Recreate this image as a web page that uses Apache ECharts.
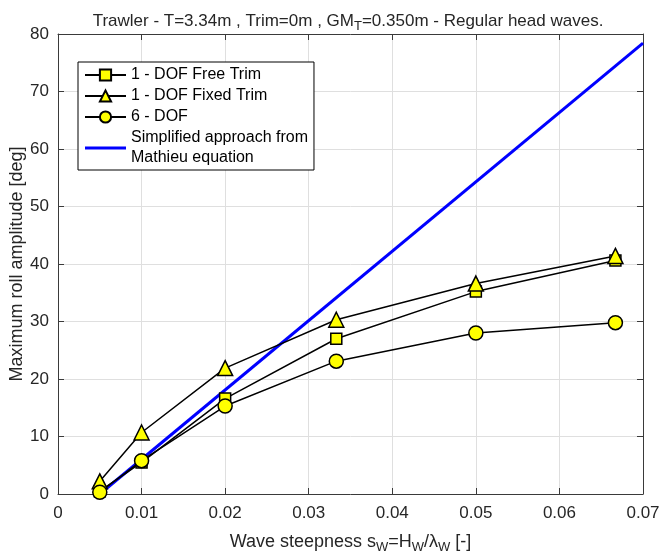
<!DOCTYPE html>
<html>
<head>
<meta charset="utf-8">
<script src="https://cdn.jsdelivr.net/npm/echarts@6/dist/echarts.min.js"></script>
<style>html,body{margin:0;padding:0;background:#fff}#c{width:660px;height:556px}</style>
</head>
<body>
<div id="c"></div>
<script>
// ---- data ----
const steepness = [0.005, 0.01, 0.02, 0.0333, 0.05, 0.0667];
const freeTrim  = [0.5, 5.5, 16.6, 27.0, 35.2, 40.6];
const fixedTrim = [2.2, 10.7, 21.9, 30.3, 36.6, 41.4];
const sixDof    = [0.3, 5.8, 15.3, 23.1, 28.0, 29.8];
const mathieuX  = [0.005, 0.07];
const mathieuY  = [0, 78.4];
const xTicks = [0, 0.01, 0.02, 0.03, 0.04, 0.05, 0.06, 0.07];
const yTicks = [0, 10, 20, 30, 40, 50, 60, 70, 80];
const names = ['1 - DOF Free Trim', '1 - DOF Fixed Trim', '6 - DOF', 'Simplified approach from\nMathieu equation'];

const pair = (xs, ys) => xs.map((x, i) => [x, ys[i]]);
const FONT = 'Liberation Sans, Arial, sans-serif';
const TXT = '#262626';
const AX = '#3a3a3a';

const chart = echarts.init(document.getElementById('c'), null, {renderer: 'canvas'});

const mk = (name, data, symbol, size) => ({
  name, type: 'line', data, symbol, symbolSize: size, z: 3,
  lineStyle: {color: '#000', width: 1.5},
  itemStyle: {color: '#ffff00', borderColor: '#000', borderWidth: 1.5},
  emphasis: {disabled: true}, animation: false
});

const baseX = {
  type: 'value', min: xTicks[0], max: xTicks[xTicks.length - 1], interval: 0.01
};
const baseY = {
  type: 'value', min: yTicks[0], max: yTicks[yTicks.length - 1], interval: 10
};

chart.setOption({
  animation: false,
  backgroundColor: '#fff',
  title: {
    text: 'Trawler - T=3.34m , Trim=0m , GM{s|T}=0.350m - Regular head waves.',
    left: 343, textAlign: 'center', top: 5,
    textStyle: {
      fontFamily: FONT, fontSize: 17, fontWeight: 'normal', color: TXT,
      rich: {s: {fontFamily: FONT, fontSize: 13, color: TXT, padding: [10, 0, 0, 0]}}
    }
  },
  legend: {
    data: [
      {name: names[0]}, {name: names[1]}, {name: names[2]},
      {name: names[3], icon: 'path://M0,0 L41,0 L41,3 L0,3 Z', itemStyle: {color: '#0000ff'}}
    ],
    orient: 'vertical',
    left: 78, top: 62,
    padding: [3, 6, 2, 6],
    itemWidth: 41, itemHeight: 14, itemGap: 1,
    backgroundColor: '#fff', borderColor: '#000', borderWidth: 1,
    textStyle: {fontFamily: FONT, fontSize: 16, color: '#000', lineHeight: 20},
    selectedMode: false
  },
  grid: {left: 58, top: 34, right: 17, bottom: 62, containLabel: false, outerBoundsMode: 'none'},
  xAxis: [
    Object.assign({}, baseX, {
      position: 'bottom',
      name: 'Wave steepness s{s|W}=H{s|W}/λ{s|W} [-]',
      nameLocation: 'middle', nameGap: 37,
      nameTextStyle: {fontFamily: FONT, fontSize: 18, color: TXT,
        rich: {s: {fontFamily: FONT, fontSize: 13, color: TXT, padding: [10, 0, 0, 0]}}},
      axisLine: {show: true, onZero: false, lineStyle: {color: AX, width: 1}},
      axisTick: {show: true, inside: true, length: 6, lineStyle: {color: AX}},
      axisLabel: {fontFamily: FONT, fontSize: 17, color: TXT, margin: 11,
        formatter: v => v === 0 ? '0' : v.toFixed(2)},
      splitLine: {show: true, lineStyle: {color: '#dfdfdf', width: 1}}
    }),
    Object.assign({}, baseX, {
      position: 'top',
      axisLine: {show: true, onZero: false, lineStyle: {color: AX, width: 1}},
      axisTick: {show: true, inside: true, length: 6, lineStyle: {color: AX}},
      axisLabel: {show: false}, splitLine: {show: false}
    })
  ],
  yAxis: [
    Object.assign({}, baseY, {
      position: 'left',
      name: 'Maximum roll amplitude [deg]',
      nameLocation: 'middle', nameGap: 32, nameRotate: 90, nameMoveOverlap: false,
      nameTextStyle: {fontFamily: FONT, fontSize: 18, color: TXT},
      axisLine: {show: true, onZero: false, lineStyle: {color: AX, width: 1}},
      axisTick: {show: true, inside: true, length: 6, lineStyle: {color: AX}},
      axisLabel: {fontFamily: FONT, fontSize: 17, color: TXT, margin: 9},
      splitLine: {show: true, lineStyle: {color: '#dfdfdf', width: 1}}
    }),
    Object.assign({}, baseY, {
      position: 'right',
      axisLine: {show: true, onZero: false, lineStyle: {color: AX, width: 1}},
      axisTick: {show: true, inside: true, length: 6, lineStyle: {color: AX}},
      axisLabel: {show: false}, splitLine: {show: false}
    })
  ],
  series: [
    {
      name: names[3], type: 'line', data: pair(mathieuX, mathieuY),
      symbol: 'none', z: 2,
      lineStyle: {color: '#0000ff', width: 3},
      itemStyle: {color: '#0000ff'},
      emphasis: {disabled: true}
    },
    mk(names[0], pair(steepness, freeTrim), 'rect', 11),
    mk(names[1], pair(steepness, fixedTrim), 'triangle', 15),
    mk(names[2], pair(steepness, sixDof), 'circle', 14)
  ]
});
</script>
</body>
</html>
